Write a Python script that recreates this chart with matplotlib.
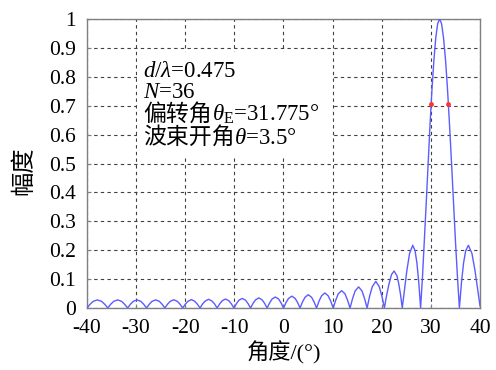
import matplotlib
matplotlib.use("Agg")
import matplotlib.pyplot as plt
from matplotlib.patches import Rectangle
from matplotlib import transforms

plt.rcParams['font.family'] = ['Liberation Serif', 'Noto Sans CJK SC']
plt.rcParams['mathtext.fontset'] = 'custom'
plt.rcParams['mathtext.rm'] = 'Liberation Serif'
plt.rcParams['mathtext.it'] = 'Liberation Serif:italic'
plt.rcParams['axes.unicode_minus'] = False

# array pattern (angle in degrees, normalised amplitude)
theta_deg = [
    -40.00, -39.37, -38.73, -37.89, -37.04, -36.40,
    -35.77, -35.17, -34.56, -33.76, -32.95, -32.35,
    -31.74, -31.16, -30.58, -29.81, -29.04, -28.46,
    -27.88, -27.32, -26.76, -26.02, -25.27, -24.71,
    -24.15, -23.61, -23.06, -22.34, -21.61, -21.06,
    -20.52, -19.99, -19.46, -18.76, -18.05, -17.52,
    -16.99, -16.47, -15.95, -15.25, -14.55, -14.03,
    -13.51, -13.00, -12.48, -11.80, -11.12, -10.60,
    -10.09, -9.58, -9.07, -8.40, -7.72, -7.21,
    -6.70, -6.20, -5.69, -5.02, -4.35, -3.84,
    -3.34, -2.84, -2.33, -1.66, -0.99, -0.48,
    0.02, 0.52, 1.03, 1.70, 2.37, 2.87,
    3.37, 3.87, 4.38, 5.05, 5.72, 6.23,
    6.73, 7.24, 7.75, 8.43, 9.10, 9.61,
    10.12, 10.63, 11.15, 11.84, 12.52, 13.04,
    13.55, 14.07, 14.59, 15.29, 15.98, 16.50,
    17.02, 17.55, 18.08, 18.79, 19.49, 20.02,
    20.55, 20.88, 21.46, 22.00, 22.51, 23.09, 23.45, 23.82,
    24.18, 24.55, 25.11, 25.67, 26.31, 26.79, 27.16, 27.54,
    27.91, 28.30, 28.68, 29.07, 29.46, 29.84, 30.23, 30.62, 31.00, 31.39,
    31.775, 32.18, 32.58, 32.99, 33.39, 33.79, 34.20, 34.60, 35.00, 35.41,
    35.81, 36.24, 36.66, 37.09, 37.64, 38.36, 38.99, 39.64, 40.00,
]
amplitude = [
    0.0, 0.013, 0.023, 0.028, 0.023, 0.013,
    0.0, 0.013, 0.023, 0.028, 0.023, 0.013,
    0.0, 0.013, 0.023, 0.028, 0.023, 0.013,
    0.0, 0.013, 0.023, 0.028, 0.023, 0.013,
    0.0, 0.013, 0.023, 0.0285, 0.023, 0.013,
    0.0, 0.013, 0.023, 0.029, 0.023, 0.013,
    0.0, 0.014, 0.024, 0.030, 0.024, 0.014,
    0.0, 0.014, 0.025, 0.031, 0.025, 0.014,
    0.0, 0.015, 0.027, 0.033, 0.027, 0.015,
    0.0, 0.016, 0.028, 0.035, 0.028, 0.016,
    0.0, 0.017, 0.031, 0.038, 0.031, 0.017,
    0.0, 0.019, 0.033, 0.041, 0.033, 0.019,
    0.0, 0.021, 0.037, 0.046, 0.037, 0.021,
    0.0, 0.024, 0.042, 0.052, 0.042, 0.024,
    0.0, 0.027, 0.049, 0.060, 0.049, 0.027,
    0.0, 0.033, 0.059, 0.073, 0.059, 0.033,
    0.0, 0.042, 0.074, 0.092, 0.074, 0.042,
    0.0, 0.034, 0.082, 0.116, 0.128, 0.112, 0.085, 0.047,
    0.0, 0.052, 0.129, 0.189, 0.217, 0.198, 0.156, 0.089,
    0.0, 0.109, 0.234, 0.368, 0.505, 0.637, 0.757, 0.858, 0.935, 0.984,
    1.0, 0.984, 0.935, 0.858, 0.757, 0.637, 0.505, 0.368, 0.234, 0.109,
    0.0, 0.089, 0.156, 0.198, 0.217, 0.189, 0.129, 0.052, 0.008,
]

# half-power points
hp_theta = [30.03, 33.53]
hp_amp = [0.707, 0.707]

x_ticks = [-40, -30, -20, -10, 0, 10, 20, 30, 40]
y_ticks = [0, 0.1, 0.2, 0.3, 0.4, 0.5, 0.6, 0.7, 0.8, 0.9, 1]
y_ticklabels = ['0', '0.1', '0.2', '0.3', '0.4', '0.5', '0.6', '0.7', '0.8', '0.9', '1']

# parameter text: chinese prefix + math part (drawn separately so CJK glyphs render)
info_cn = ['', '', '偏转角', '波束开角']
info_math = [
    r'$d/\lambda$=0.475',
    r'$N$=36',
    r'$\theta_{\mathrm{E}}$=31.775°',
    r'$\theta$=3.5°',
]

fig = plt.figure(figsize=(4.96, 3.70), dpi=100)
ax = fig.add_axes([0.1754, 0.1676, 0.7923, 0.781])

ax.plot(theta_deg, amplitude, color='#5c5cff', lw=1.0, zorder=3)
ax.plot(hp_theta, hp_amp, 'o', color='#ff3333', ms=3.5, mec='none', zorder=4)

ax.set_xlim(-40, 40)
ax.set_ylim(0, 1)
ax.set_xticks(x_ticks)
ax.set_yticks(y_ticks)
ax.set_yticklabels(y_ticklabels)
ax.tick_params(direction='in', length=3, color='#808080', labelsize=15.5)
ax.tick_params(axis='x', pad=8)
ax.tick_params(axis='y', pad=8)
for s in ax.spines.values():
    s.set_color('#808080')
    s.set_linewidth(1.0)

ax.grid(True, color='#404040', linestyle=(0, (3, 3)), linewidth=0.8)

# white panel behind the parameter text
ax.add_patch(Rectangle((0.127, 0.519), 0.494, 0.367, transform=ax.transAxes,
                       facecolor='white', edgecolor='none', zorder=2))
fig.canvas.draw()
renderer = fig.canvas.get_renderer()
baselines = [0.799, 0.727, 0.647, 0.567]
for cn, mt, yb in zip(info_cn, info_math, baselines):
    dx = 0
    if cn:
        t = ax.text(0.1425, yb, cn, transform=ax.transAxes, fontsize=16.5,
                    family='Noto Sans CJK SC', va='baseline', ha='left', zorder=5)
        dx = t.get_window_extent(renderer).width
    tr = transforms.offset_copy(ax.transAxes, fig=fig, x=dx, y=0, units='dots')
    ax.text(0.1425, yb, mt, transform=tr, fontsize=16.5,
            va='baseline', ha='left', zorder=5)

fig.text(283.5 / 496, 1 - 353 / 370, '角度/(°)', fontsize=16, ha='center', va='center')
fig.text(24 / 496, 1 - 171 / 370, '幅度', fontsize=17.5, ha='center', va='center',
         rotation=90)

fig.savefig('out.png', dpi=100)
